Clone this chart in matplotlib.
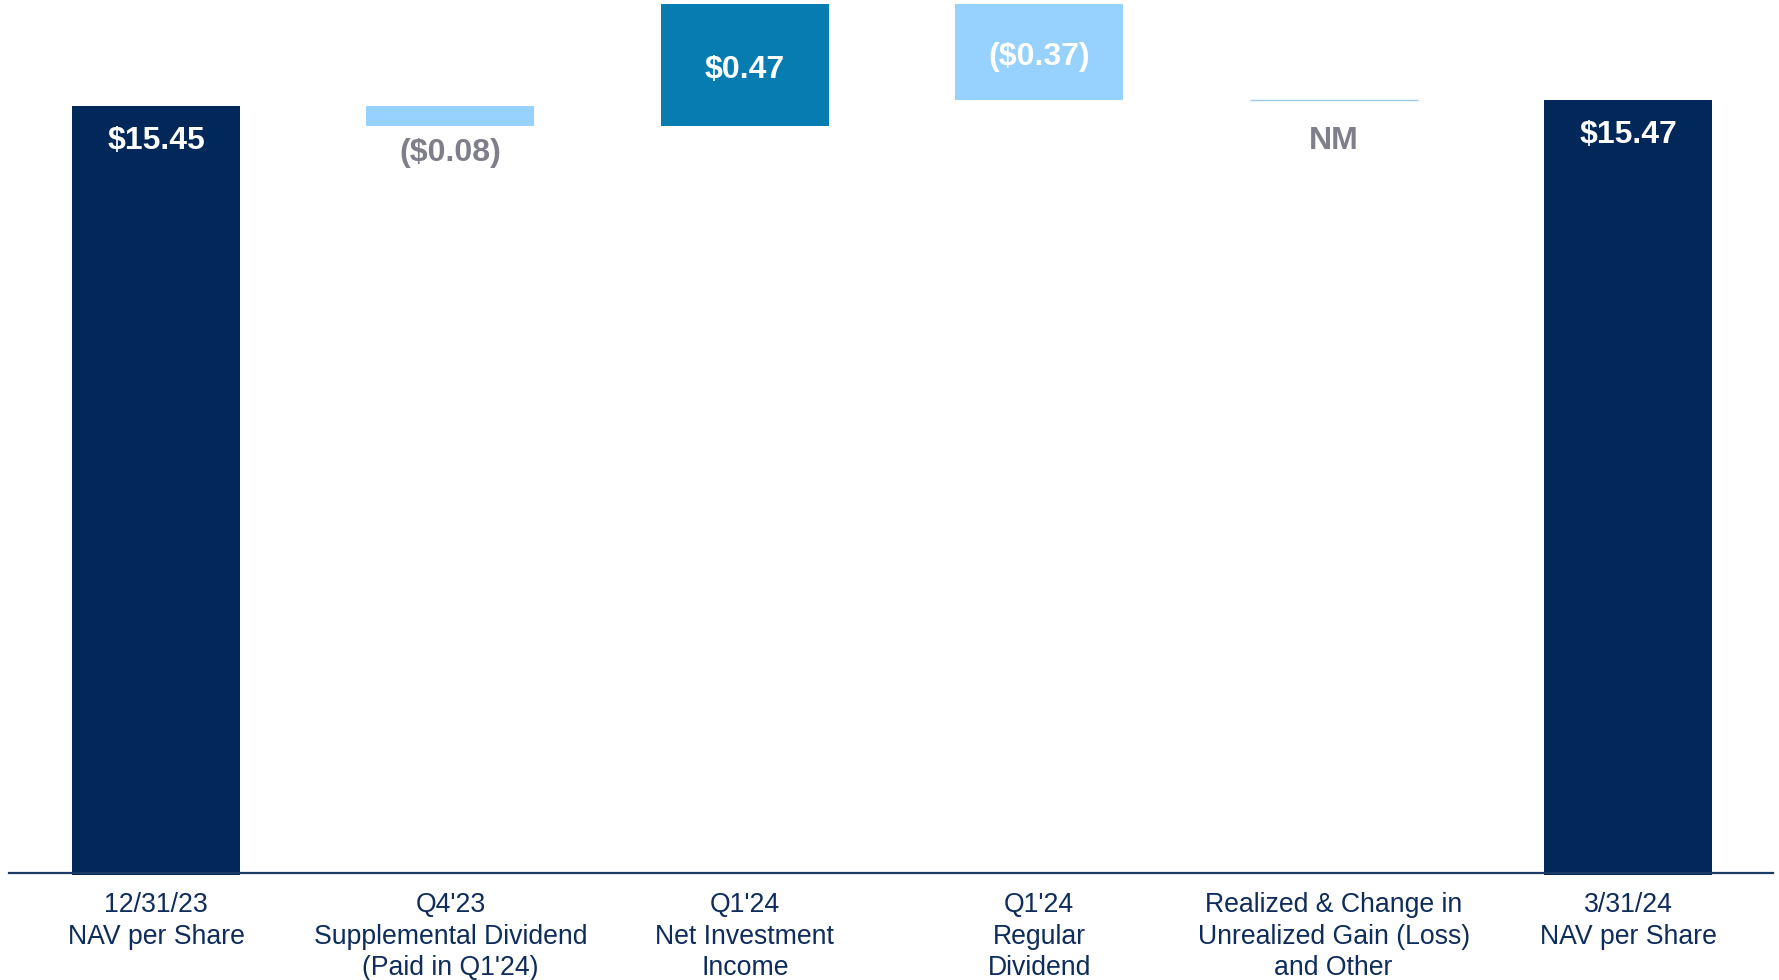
import matplotlib
matplotlib.use("Agg")
import matplotlib.pyplot as plt
from matplotlib.transforms import blended_transform_factory, offset_copy
from matplotlib.lines import Line2D

plt.rcParams['font.family'] = ['Liberation Sans', 'DejaVu Sans']

# ---- data ----
categories = ["12/31/23\nNAV per Share",
              "Q4'23\nSupplemental Dividend\n(Paid in Q1'24)",
              "Q1'24\nNet Investment\nIncome",
              "Q1'24\nRegular\nDividend",
              "Realized & Change in\nUnrealized Gain (Loss)\nand Other",
              "3/31/24\nNAV per Share"]
start_nav = 15.45
changes = [-0.08, 0.47, -0.37, 0.00]
end_nav = 15.47
value_labels = ["$15.45", "($0.08)", "$0.47", "($0.37)", "NM", "$15.47"]

NAVY = '#012859'
MID = '#067cb1'
LIGHT = '#96d2fd'
GRAY = '#7f7f8b'
TEXT = '#0e2c5c'

W, H = 1779, 980
fig = plt.figure(figsize=(W / 100, H / 100), dpi=100)
ax_bottom_px = 874.7
ax = fig.add_axes([0, (H - ax_bottom_px) / H, 1, ax_bottom_px / H])
ax.set_xlim(-156 / 294.4, (W - 156) / 294.4)
ax.set_ylim(12.49, 15.856)
ax.axis('off')

bw = 168 / 294.4
px = 72 / fig.dpi  # points per pixel

def label(x, y, s, color, dy_px):
    t = offset_copy(ax.transData, fig=fig, x=0, y=-dy_px * px, units='points')
    ax.text(x, y, s, transform=t, ha='center', va='center', fontsize=23,
            fontweight='bold', color=color)

# start bar
ax.bar(0, start_nav, width=bw, color=NAVY)
label(0, start_nav, value_labels[0], 'white', 35)

running = start_nav
for i, ch in enumerate(changes, start=1):
    lo, hi = min(running, running + ch), max(running, running + ch)
    if ch == 0:
        ax.hlines(running, i - bw / 2, i + bw / 2, color='#9ccaf0', linewidth=1)
        label(i, running, value_labels[i], GRAY, 40.5)
    elif ch < 0:
        ax.bar(i, hi - lo, bottom=lo, width=bw, color=LIGHT)
        if i == 1:
            label(i, lo, value_labels[i], GRAY, 27)
        else:
            label(i, (lo + hi) / 2, value_labels[i], 'white', 5)
    else:
        ax.bar(i, hi - lo, bottom=lo, width=bw, color=MID)
        label(i, (lo + hi) / 2, value_labels[i], 'white', 5)
    running += ch

n = len(categories) - 1
ax.bar(n, end_nav, width=bw, color=NAVY)
label(n, end_nav, value_labels[n], 'white', 35)

# baseline
yb = (H - 872.5) / H
fig.add_artist(Line2D([9 / W, 1773 / W], [yb, yb], color='#1c3a66', linewidth=1.6,
                      transform=fig.transFigure))

# category labels
trans = blended_transform_factory(ax.transData, ax.transAxes)
trans = offset_copy(trans, fig=fig, x=0, y=-17.5 * px, units='points')
for i, c in enumerate(categories):
    ax.text(i, 0, c, transform=trans, ha='center', va='top', fontsize=19.2,
            color=TEXT, linespacing=1.27)

fig.savefig('out.png', dpi=100)
